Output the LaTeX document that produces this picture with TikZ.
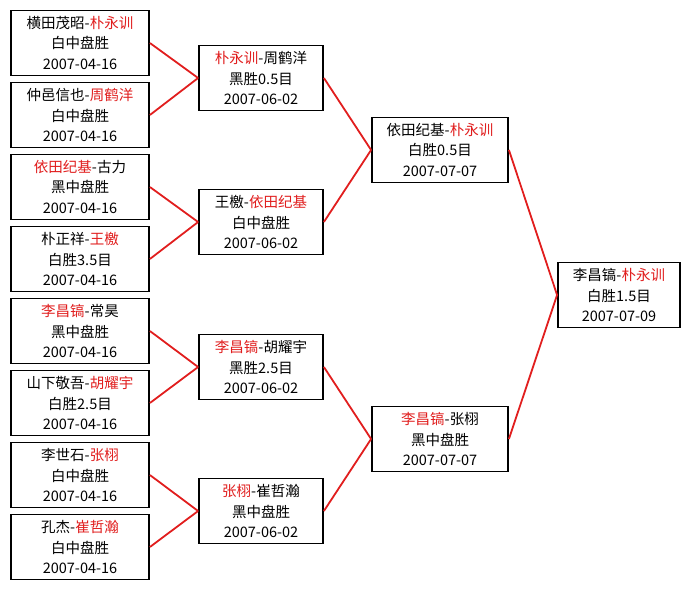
\documentclass[tikz,border=0pt]{standalone}
\usepackage{fontspec}
\setmainfont{Noto Sans CJK SC}
\definecolor{winred}{RGB}{225,30,30}
\newcommand{\winner}[1]{\textcolor{winred}{#1}}
\tikzset{
  game/.style={draw, line width=1.8pt, fill=white, align=center, inner sep=0pt,
    minimum height=65pt, font=\fontsize{14.5}{20.5}\selectfont},
  link/.style={draw=winred, line width=1.8pt}
}
\begin{document}
\begin{tikzpicture}[x=1pt,y=-1pt]
\useasboundingbox (0,0) rectangle (690,589);
\node[game, minimum width=138pt] (q1) at (80,43)
{横田茂昭-\winner{朴永训}\\白中盘胜\\2007-04-16};
\node[game, minimum width=138pt] (q2) at (80,115)
{仲邑信也-\winner{周鹤洋}\\白中盘胜\\2007-04-16};
\node[game, minimum width=138pt] (q3) at (80,187)
{\winner{依田纪基}-古力\\黑中盘胜\\2007-04-16};
\node[game, minimum width=138pt] (q4) at (80,259)
{朴正祥-\winner{王檄}\\白胜3.5目\\2007-04-16};
\node[game, minimum width=138pt] (q5) at (80,331)
{\winner{李昌镐}-常昊\\黑中盘胜\\2007-04-16};
\node[game, minimum width=138pt] (q6) at (80,403)
{山下敬吾-\winner{胡耀宇}\\白胜2.5目\\2007-04-16};
\node[game, minimum width=138pt] (q7) at (80,475)
{李世石-\winner{张栩}\\白中盘胜\\2007-04-16};
\node[game, minimum width=138pt] (q8) at (80,547)
{孔杰-\winner{崔哲瀚}\\白中盘胜\\2007-04-16};

\node[game, minimum width=124pt] (s1) at (261,78)
{\winner{朴永训}-周鹤洋\\黑胜0.5目\\2007-06-02};
\node[game, minimum width=124pt] (s2) at (261,222)
{王檄-\winner{依田纪基}\\白中盘胜\\2007-06-02};
\node[game, minimum width=124pt] (s3) at (261,367)
{\winner{李昌镐}-胡耀宇\\黑胜2.5目\\2007-06-02};
\node[game, minimum width=124pt] (s4) at (261,511)
{\winner{张栩}-崔哲瀚\\黑中盘胜\\2007-06-02};

\node[game, minimum width=136pt] (f1) at (440,150)
{依田纪基-\winner{朴永训}\\白胜0.5目\\2007-07-07};
\node[game, minimum width=136pt] (f2) at (440,439)
{\winner{李昌镐}-张栩\\黑中盘胜\\2007-07-07};

\node[game, minimum width=122pt] (final) at (619,295)
{李昌镐-\winner{朴永训}\\白胜1.5目\\2007-07-09};

\draw[link] (q1.east) -- (s1.west);
\draw[link] (q2.east) -- (s1.west);
\draw[link] (q3.east) -- (s2.west);
\draw[link] (q4.east) -- (s2.west);
\draw[link] (q5.east) -- (s3.west);
\draw[link] (q6.east) -- (s3.west);
\draw[link] (q7.east) -- (s4.west);
\draw[link] (q8.east) -- (s4.west);
\draw[link] (s1.east) -- (f1.west);
\draw[link] (s2.east) -- (f1.west);
\draw[link] (s3.east) -- (f2.west);
\draw[link] (s4.east) -- (f2.west);
\draw[link] (f1.east) -- (final.west);
\draw[link] (f2.east) -- (final.west);
\end{tikzpicture}
\end{document}
